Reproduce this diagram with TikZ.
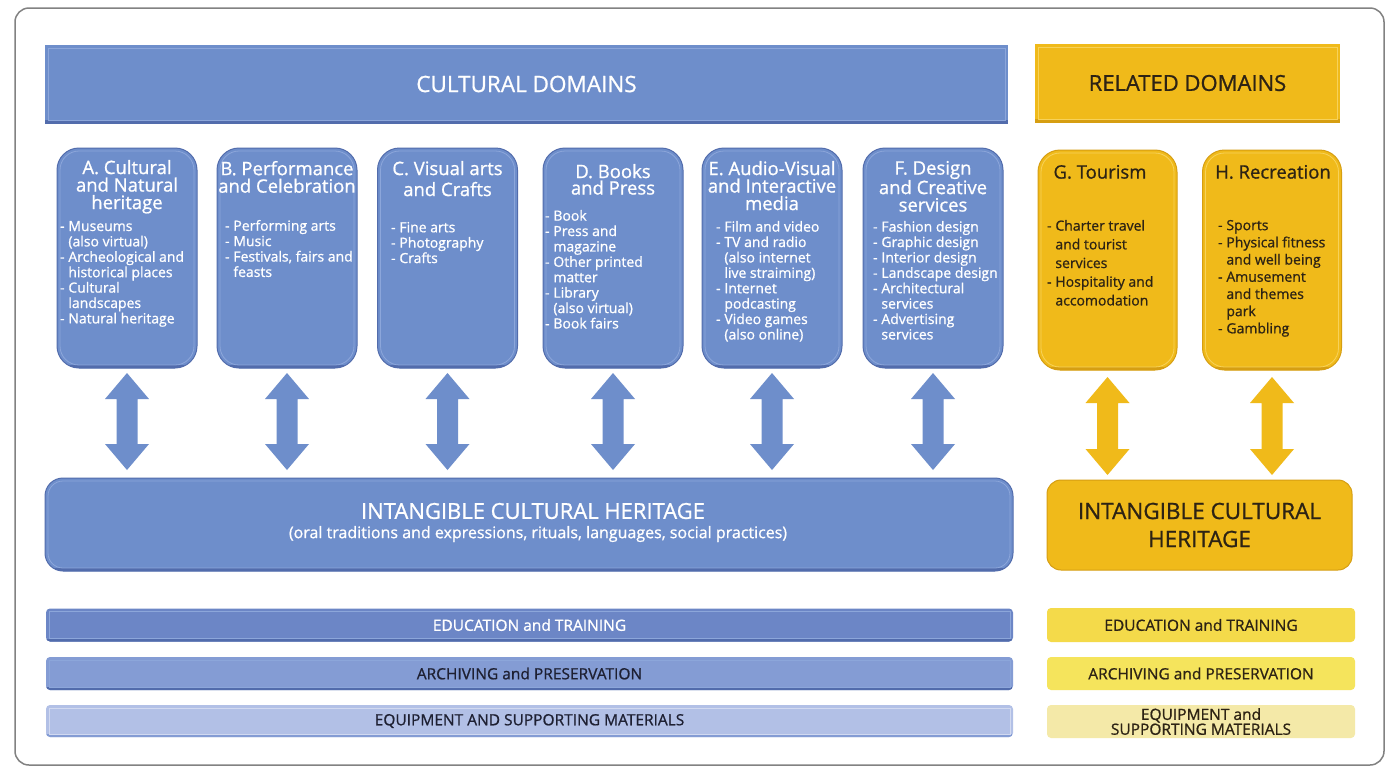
\documentclass[tikz,border=0pt]{standalone}
\usepackage{fontspec}
\setmainfont{Open Sans}[FakeBold=0.9]
\usetikzlibrary{calc}
\definecolor{cblue}{RGB}{110,142,203}
\definecolor{cbluedk}{RGB}{82,108,172}
\definecolor{cbluelt}{RGB}{140,166,218}
\definecolor{cyel}{RGB}{240,186,26}
\definecolor{cyeldk}{RGB}{214,158,18}
\definecolor{cyellt}{RGB}{247,210,90}
\definecolor{ctxt}{RGB}{45,35,20}
\definecolor{cnavy}{RGB}{30,32,50}
\definecolor{bared}{RGB}{108,134,198}
\definecolor{barar}{RGB}{132,156,212}
\definecolor{bareq}{RGB}{178,192,230}
\definecolor{yed}{RGB}{244,218,74}
\definecolor{yar}{RGB}{245,228,92}
\definecolor{yeq}{RGB}{244,233,168}
\definecolor{frame}{RGB}{130,130,130}
\newcommand\hy{\makebox[0.6em][l]{-}}
\newcommand\ii{\hspace*{0.6em}}
\newcommand\dblarrow[3]{%
  \fill[#1] (#2) -- ++(22,26) -- ++(-11.5,0) -- ($(#3)+(10.5,-26)$) -- ++(11.5,0)
    -- (#3) -- ++(-22,-26) -- ++(11.5,0) -- ($(#2)+(-10.5,26)$) -- ++(-11.5,0) -- cycle;}
\begin{document}
\begin{tikzpicture}[x=1pt,y=-1pt,
  base/.style={inner sep=0pt, outer sep=0pt},
  bevelpic/.style 2 args={path picture={
     \fill[#2, sharp corners] ([yshift=-1pt]path picture bounding box.south west) rectangle ([yshift=3pt]path picture bounding box.south east);
     \draw[#1, line width=0.8pt] ([shift={(3pt,3pt)}]path picture bounding box.south west) rectangle ([shift={(-3pt,-3pt)}]path picture bounding box.north east);}},
  hdr/.style={base, fill=cblue, bevelpic={cbluelt, sharp corners}{cbluedk}},
  yhdr/.style={base, fill=cyel, bevelpic={cyellt, sharp corners}{cyeldk}},
  dombox/.style={base, fill=cblue, draw=cbluedk, line width=1pt, rounded corners=22pt,
     minimum width=140pt, minimum height=220pt, bevelpic={cbluelt, rounded corners=19pt}{cbluedk}},
  relbox/.style={base, fill=cyel, draw=cyeldk, line width=1pt, rounded corners=22pt,
     minimum width=139pt, minimum height=220pt, bevelpic={cyellt, rounded corners=19pt}{cyeldk}},
  ttl/.style={base, anchor=north, align=center, text=white, font=\fontsize{18.5}{17.5}\selectfont},
  yttl/.style={ttl, text=ctxt},
  itm/.style={base, anchor=north west, align=left, text=white, font=\fontsize{14}{15.4}\selectfont},
  yitm/.style={itm, text=ctxt},
  bar/.style={base, rounded corners=4pt, minimum width=967pt, minimum height=33pt, font=\fontsize{15.5}{16}\selectfont},
  ybar/.style={base, rounded corners=4pt, minimum width=308pt, minimum height=33pt, font=\fontsize{15.5}{13.5}\selectfont, text=ctxt, align=center}
]
\useasboundingbox (0,0) rectangle (1388,772);
\fill[white] (0,0) rectangle (1388,772);
\draw[frame, line width=1.5pt, rounded corners=14pt] (15,8) rectangle (1384,765);

% headers
\node[hdr, minimum width=963pt, minimum height=78pt, text=white, font=\fontsize{22.5}{24}\selectfont] (cd) at (526.5,84) {CULTURAL DOMAINS};
\node[yhdr, minimum width=305pt, minimum height=78pt, text=ctxt, font=\fontsize{22}{24}\selectfont] (rd) at (1187.5,83) {RELATED DOMAINS};

% domain boxes
\node[dombox] (A) at (127,258) {};
\node[dombox] (B) at (287,258) {};
\node[dombox] (C) at (447.5,258) {};
\node[dombox] (D) at (613,258) {};
\node[dombox] (E) at (772,258) {};
\node[dombox] (F) at (933,258) {};
\node[relbox] (G) at (1107.5,260) {};
\node[relbox] (H) at (1272,260) {};

% titles
\node[ttl] (At) at (127,160) {A. Cultural\\and Natural\\heritage};
\node[ttl] (Bt) at (287,161) {B. Performance\\and Celebration};
\node[ttl, font=\fontsize{18.5}{21}\selectfont] (Ct) at (447.5,161) {C. Visual arts\\and Crafts};
\node[ttl, font=\fontsize{18.5}{16.5}\selectfont] (Dt) at (613,164) {D. Books\\and Press};
\node[ttl] (Et) at (772,161) {E. Audio-Visual\\and Interactive\\media};
\node[ttl] (Ft) at (933,161) {F. Design\\and Creative\\services};
\node[yttl] (Gt) at (1100,165) {G. Tourism};
\node[yttl] (Ht) at (1273,165) {H. Recreation};

% items
\node[itm] (Ai) at (60,221) {\hy Museums\\\ii(also virtual)\\\hy Archeological and\\\ii historical places\\\hy Cultural\\\ii landscapes\\\hy Natural heritage};
\node[itm] (Bi) at (225,220) {\hy Performing arts\\\hy Music\\\hy Festivals, fairs and\\\ii feasts};
\node[itm] (Ci) at (391,222) {\hy Fine arts\\\hy Photography\\\hy Crafts};
\node[itm] (Di) at (545,210) {\hy Book\\\hy Press and\\\ii magazine\\\hy Other printed\\\ii matter\\\hy Library\\\ii(also virtual)\\\hy Book fairs};
\node[itm] (Ei) at (716,221) {\hy Film and video\\\hy TV and radio\\\ii(also internet\\\ii live straiming)\\\hy Internet\\\ii podcasting\\\hy Video games\\\ii(also online)};
\node[itm] (Fi) at (873,221) {\hy Fashion design\\\hy Graphic design\\\hy Interior design\\\hy Landscape design\\\hy Architectural\\\ii services\\\hy Advertising\\\ii services};
\node[yitm, font=\fontsize{14}{18.7}\selectfont] (Gi) at (1047,220) {\hy Charter travel\\\ii and tourist\\\ii services\\\hy Hospitality and\\\ii accomodation};
\node[yitm, font=\fontsize{14}{17.2}\selectfont] (Hi) at (1218,220) {\hy Sports\\\hy Physical fitness\\\ii and well being\\\hy Amusement\\\ii and themes\\\ii park\\\hy Gambling};

% intangible heritage
\node[base, fill=cblue, draw=cbluedk, line width=1pt, rounded corners=18pt, minimum width=968pt, minimum height=93pt,
  bevelpic={cbluelt, rounded corners=15pt}{cbluedk}] (ich) at (529,524.5) {};
\node[base, text=white, font=\fontsize{22}{24}\selectfont] (icht) at (533,511) {INTANGIBLE CULTURAL HERITAGE};
\node[base, text=white, font=\fontsize{16}{17}\selectfont] (ichs) at (538,534) {(oral traditions and expressions, rituals, languages, social practices)};
\node[base, fill=cyel, draw=cyeldk, line width=1pt, rounded corners=14pt, minimum width=305pt, minimum height=90pt,
  align=center, text=ctxt, font=\fontsize{22.5}{28}\selectfont] (ichy) at (1199.5,525) {INTANGIBLE CULTURAL\\HERITAGE};

% arrows
\foreach \n in {A,B,C,D,E,F}{
  \dblarrow{cblue}{$(\n.south)+(0,5)$}{$(\n.south |- ich.north)+(0,-8)$}
}
\foreach \n in {G,H}{
  \dblarrow{cyel}{$(\n.south)+(0,7)$}{$(\n.south |- ichy.north)+(0,-5)$}
}

% bars
\node[bar, fill=bared, text=white, bevelpic={cbluelt, sharp corners}{cbluedk}] (ed) at (529.5,625) {EDUCATION and TRAINING};
\node[bar, fill=barar, text=cnavy, bevelpic={cbluelt, sharp corners}{cbluedk}] (ar) at (529.5,673.5) {ARCHIVING and PRESERVATION};
\node[bar, fill=bareq, text=cnavy, minimum height=32pt, bevelpic={bareq!60!white, sharp corners}{barar}] (eq) at (529.5,721) {EQUIPMENT AND SUPPORTING MATERIALS};
\node[ybar, fill=yed, minimum height=34pt] (yed) at (1201,625) {EDUCATION and TRAINING};
\node[ybar, fill=yar] (yar) at (1201,673.5) {ARCHIVING and PRESERVATION};
\node[ybar, fill=yeq] (yeq) at (1201,721.5) {EQUIPMENT and\\SUPPORTING MATERIALS};
\end{tikzpicture}
\end{document}
